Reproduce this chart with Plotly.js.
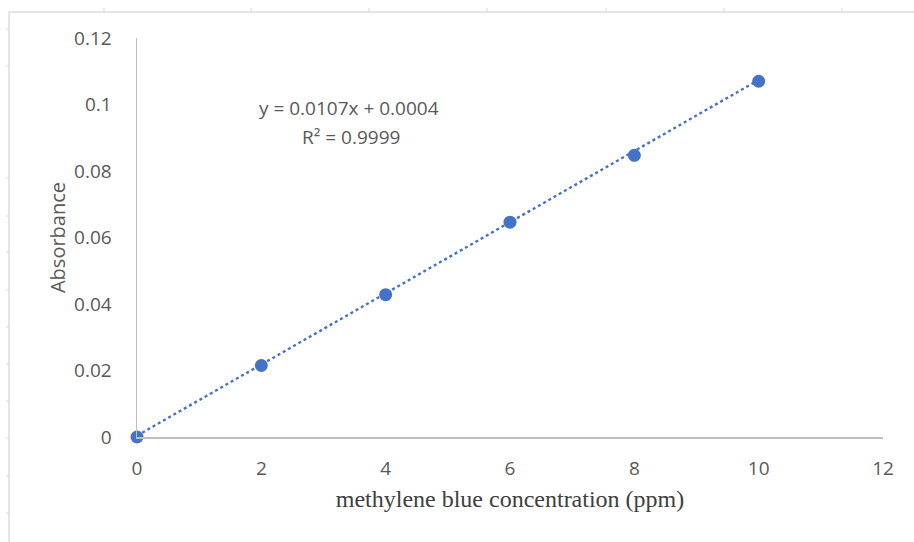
<!DOCTYPE html>
<html>
<head>
<meta charset="utf-8">
<script src="https://cdn.plot.ly/plotly-3.0.1.min.js"></script>
<style>html,body{margin:0;padding:0;background:#fff;}#chart{width:914px;height:542px;}</style>
</head>
<body>
<div id="chart"></div>
<script>
const concentration = [0, 2, 4, 6, 8, 10];
const absorbance = [0, 0.0215, 0.0428, 0.0646, 0.0847, 0.107];
const fitCoefficients = [0.0107, 0.0004]; // slope, intercept
const fitRange = [0, 10];
const xTicks = [0, 2, 4, 6, 8, 10, 12];
const yTicks = [0, 0.02, 0.04, 0.06, 0.08, 0.1, 0.12];
const yTickLabels = ['0', '0.02', '0.04', '0.06', '0.08', '0.1', '0.12'];
const equationText = 'y = 0.0107x + 0.0004';
const r2Text = 'R² = 0.9999';

const blue = '#4472C4';
const sans = '"Open Sans", Calibri, sans-serif';
const tickFont = {family: sans, size: 19, color: '#595959'};

const trend = {
  x: fitRange,
  y: fitRange.map(v => fitCoefficients[0] * v + fitCoefficients[1]),
  mode: 'lines', type: 'scatter', hoverinfo: 'skip',
  line: {color: blue, width: 2.4, dash: 'dot'}
};
const pts = {
  x: concentration, y: absorbance, mode: 'markers', type: 'scatter',
  marker: {color: blue, size: 13}, cliponaxis: false
};

// faint ruler frame (page decoration)
const W = 746, H = 399, L = 137, T = 38;
const px2x = px => (px - L) / W;
const py2y = py => (T + H - py) / H;
const shapes = [];
shapes.push({type:'line', xref:'paper', yref:'paper', x0:px2x(9), x1:px2x(914), y0:py2y(12), y1:py2y(12), line:{color:'#dcdcdc', width:1.5}});
shapes.push({type:'line', xref:'paper', yref:'paper', x0:px2x(9), x1:px2x(9), y0:py2y(12), y1:py2y(545), line:{color:'#dcdcdc', width:1.5}});
const topTicksPx = [104, 251, 369, 487, 606, 724, 842];
const leftTicksPx = [29, 66, 178, 216, 252, 290, 327, 364, 401, 438, 476, 513];
topTicksPx.forEach(px => shapes.push({type:'line', xref:'paper', yref:'paper',
  x0:px2x(px), x1:px2x(px), y0:py2y(8), y1:py2y(12), line:{color:'#d8d8d8', width:1}}));
leftTicksPx.forEach(py => shapes.push({type:'line', xref:'paper', yref:'paper',
  x0:px2x(6), x1:px2x(9), y0:py2y(py), y1:py2y(py), line:{color:'#d8d8d8', width:1}}));

const layout = {
  width: 914, height: 542,
  margin: {l: 137, r: 31, t: 38, b: 105},
  paper_bgcolor: '#fff', plot_bgcolor: '#fff',
  showlegend: false,
  xaxis: {
    range: [0, 12], tickvals: xTicks, ticktext: xTicks.map(String),
    showgrid: false, zeroline: false, showline: true, linecolor: '#bfbfbf', linewidth: 1.5,
    ticks: '', tickfont: tickFont, ticklabelstandoff: 14,
    title: {text: 'methylene blue concentration (ppm)', standoff: 10,
      font: {family: '"Liberation Serif", "Times New Roman", serif', size: 24, color: '#404040'}}
  },
  yaxis: {
    range: [0, 0.12], tickvals: yTicks, ticktext: yTickLabels,
    showgrid: false, zeroline: false, showline: true, linecolor: '#bfbfbf', linewidth: 1.5,
    ticks: '', tickfont: tickFont, ticklabelstandoff: 20,
    title: {text: 'Absorbance', standoff: 3,
      font: {family: sans, size: 20, color: '#595959'}}
  },
  annotations: [
    {xref: 'x', yref: 'y', x: 3.41, y: 0.0989, text: equationText, showarrow: false,
      font: tickFont, xanchor: 'center', yanchor: 'middle'},
    {xref: 'x', yref: 'y', x: 3.44, y: 0.0902, text: r2Text, showarrow: false,
      font: tickFont, xanchor: 'center', yanchor: 'middle'}
  ],
  shapes: shapes
};

Plotly.newPlot('chart', [trend, pts], layout, {displayModeBar: false, staticPlot: true});
</script>
</body>
</html>
